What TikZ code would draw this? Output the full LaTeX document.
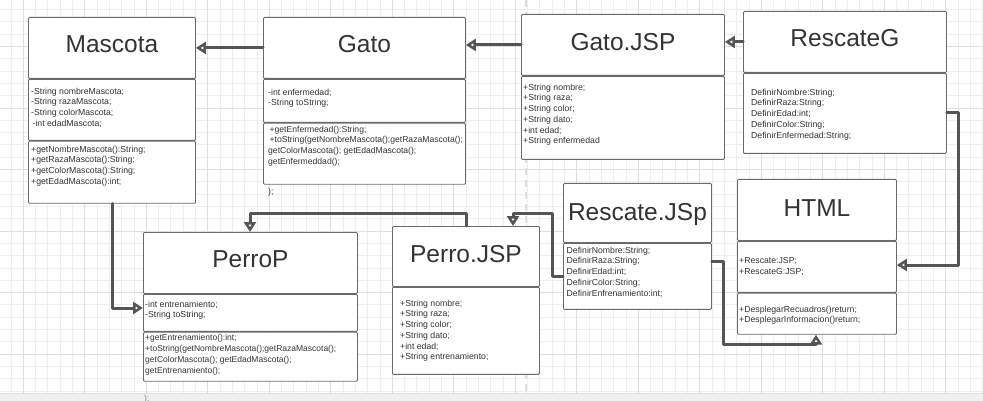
\documentclass[tikz,border=0pt]{standalone}
\usepackage{fontspec}
\setmainfont{Liberation Sans}
\usetikzlibrary{arrows.meta,positioning}
\definecolor{linea}{HTML}{555555}
\definecolor{borde}{HTML}{6A6A6A}
\definecolor{texto}{HTML}{333333}
\definecolor{rejilla}{HTML}{EEEEEE}
\definecolor{rejillaM}{HTML}{DEDEDE}
\definecolor{banda}{HTML}{F0F0F2}
\tikzset{
	caja/.style={draw=borde, fill=white, line width=0.9pt, inner sep=0pt, anchor=north west, rounded corners=1pt},
	titulo/.style={font=\fontsize{24.5}{28}\selectfont, text=texto, text height=17.5pt, text depth=0pt, inner sep=0pt},
	miembro/.style={font=\fontsize{8.7}{10.7}\selectfont, text=texto, align=left, anchor=north west, inner sep=0pt},
	flecha/.style={draw=linea, line width=3pt, -{Triangle[length=10pt, width=12pt, fill=white, line width=3pt]}}
}
\begin{document}
\begin{tikzpicture}[x=1pt, y=-1pt, line join=round, line cap=round]
	\def\paso{12.3} \def\mayor{61.5}
	\useasboundingbox (0,0) rectangle (983,401);
	\fill[white] (0,0) rectangle (983,401);
	% rejilla del fondo
	\foreach \i in {0,...,79} \draw[rejilla, line width=0.8pt] ({10.9+\paso*\i},0) -- ++(0,401);
	\foreach \j in {0,...,31} \draw[rejilla, line width=0.8pt] (0,{9.6+\paso*\j}) -- ++(983,0);
	\foreach \i in {0,...,15} \draw[rejillaM, line width=0.8pt] ({23.2+\mayor*\i},0) -- ++(0,401);
	\foreach \j in {0,...,5} \draw[rejillaM, line width=0.8pt] (0,{46.5+\mayor*\j}) -- ++(983,0);
	\draw[rejillaM, line width=2pt, dash pattern=on 7pt off 5pt, line cap=butt] (526,0) -- (526,393);
	\fill[banda] (0,393) rectangle (983,401);
	\draw[rejillaM, line width=0.8pt] (0,393) -- (983,393);

	% Mascota
	\node[caja, minimum width=167pt, minimum height=61pt] (masc) at (28,17) {};
	\node[caja, minimum width=167pt, minimum height=61pt] (mascA) at (masc.south west) {};
	\node[caja, minimum width=167pt, minimum height=62pt] (mascM) at (mascA.south west) {};
	\node[titulo] (mascT) at ([yshift=4.5pt]masc.center) {Mascota};
	\node[miembro, below right=8.8pt and 3pt of mascA.north west] (mascAt) {-String nombreMascota;\\-String razaMascota;\\-String colorMascota;\\\,-int edadMascota;};
	\node[miembro, below right=4.8pt and 3pt of mascM.north west] (mascMt) {+getNombreMascota():String;\\+getRazaMascota():String;\\+getColorMascota():String;\\+getEdadMascota():int;};

	% Gato
	\node[caja, minimum width=202pt, minimum height=61pt] (gato) at (263,17) {};
	\node[caja, minimum width=202pt, minimum height=43pt] (gatoA) at (gato.south west) {};
	\node[caja, minimum width=202pt, minimum height=61pt] (gatoM) at (gatoA.south west) {};
	\node[titulo] (gatoT) at ([yshift=4.2pt]gato.center) {Gato};
	\node[miembro, below right=9.8pt and 5pt of gatoA.north west] (gatoAt) {-int enfermedad;\\-String toString;};
	\node[miembro, font=\fontsize{8.6}{10.7}\selectfont, below right=2.8pt and 5pt of gatoM.north west] (gatoMt) {\,+getEnfermedad():String;\\\,+toString(getNombreMascota();getRazaMascota();\\getColorMascota(); getEdadMascota();\\getEnfermeddad();};
	\node[miembro] (gatoFin) at (268,188.4) {);};

	% Gato.JSP
	\node[caja, minimum width=203pt, minimum height=61pt] (gjsp) at (521,14) {};
	\node[caja, minimum width=203pt, minimum height=83pt] (gjspA) at (gjsp.south west) {};
	\node[titulo] (gjspT) at ([yshift=3.5pt]gjsp.center) {Gato.JSP};
	\node[miembro, below right=7.8pt and 2pt of gjspA.north west] (gjspAt) {+String nombre;\\+String raza;\\+String color;\\+String dato;\\+int edad;\\+String enfermedad};

	% RescateG
	\node[caja, minimum width=203pt, minimum height=61pt] (rg) at (743,11) {};
	\node[caja, minimum width=203pt, minimum height=80pt] (rgA) at (rg.south west) {};
	\node[titulo] (rgT) at ([yshift=4.5pt]rg.center) {RescateG};
	\node[miembro, below right=15.8pt and 8pt of rgA.north west] (rgAt) {DefinirNombre:String;\\DefinirRaza:String;\\DefinirEdad:int;\\DefinirColor:String;\\DefinirEnfermedad:String;};

	% PerroP
	\node[caja, minimum width=214pt, minimum height=61pt] (perroP) at (143,232) {};
	\node[caja, minimum width=214pt, minimum height=37pt] (perroPA) at (perroP.south west) {};
	\node[caja, minimum width=214pt, minimum height=49pt] (perroPM) at (perroPA.south west) {};
	\node[titulo] (perroPT) at ([yshift=4.5pt]perroP.center) {PerroP};
	\node[miembro, below right=6.8pt and 2pt of perroPA.north west] (perroPAt) {-int entrenamiento;\\-String toString;};
	\node[miembro, font=\fontsize{8.5}{10.7}\selectfont, below right=2.8pt and 2pt of perroPM.north west] (perroPMt) {+getEntrenamiento():int;\\+toString(getNombreMascota();getRazaMascota();\\getColorMascota(); getEdadMascota();\\getEntrenamiento();};

	% Perro.JSP
	\node[caja, minimum width=147pt, minimum height=60pt] (pjsp) at (392,226) {};
	\node[caja, minimum width=147pt, minimum height=87pt] (pjspA) at (pjsp.south west) {};
	\node[titulo] (pjspT) at ([yshift=3pt]pjsp.center) {Perro.JSP};
	\node[miembro, below right=12.8pt and 8pt of pjspA.north west] (pjspAt) {+String nombre;\\+String raza;\\+String color;\\+String dato;\\+int edad;\\+String entrenamiento;};

	% Rescate.JSp
	\node[caja, minimum width=148pt, minimum height=59pt] (rjsp) at (563,183) {};
	\node[caja, minimum width=148pt, minimum height=66pt] (rjspA) at (rjsp.south west) {};
	\node[titulo] (rjspT) at ([yshift=1pt]rjsp.center) {Rescate.JSp};
	\node[miembro, below right=3.8pt and 3.5pt of rjspA.north west] (rjspAt) {DefinirNombre:String;\\DefinirRaza:String;\\DefinirEdad:int;\\DefinirColor:String;\\DefinirEnfrenamiento:int;};

	% HTML
	\node[caja, minimum width=159pt, minimum height=61pt] (html) at (737,179) {};
	\node[caja, minimum width=159pt, minimum height=51pt] (htmlA) at (html.south west) {};
	\node[caja, minimum width=159pt, minimum height=41pt] (htmlM) at (htmlA.south west) {};
	\node[titulo] (htmlT) at ([yshift=2.5pt]html.center) {HTML};
	\node[miembro, below right=16.8pt and 2pt of htmlA.north west] (htmlAt) {+Rescate:JSP;\\+RescateG:JSP;};
	\node[miembro, below right=12.8pt and 2pt of htmlM.north west] (htmlMt) {+DesplegarRecuadros()return;\\+DesplegarInformacion()return;};

	\node[miembro, text=black!45] (perroFin) at (144,394.5) {);};

	% conectores
	\coordinate (m1) at (112,308);
	\coordinate (p1) at (466,213); \coordinate (p2) at (250,213);
	\coordinate (r1) at (552,276); \coordinate (r2) at (552,213); \coordinate (r3) at (513,213);
	\coordinate (h1) at (723,261); \coordinate (h2) at (723,344); \coordinate (h3) at (816,344);
	\coordinate (g1) at (958,113); \coordinate (g2) at (958,265);
	\draw[flecha] (gato.west) -- (masc.east);
	\draw[flecha] (gjsp.west) -- (gjsp.west -| gato.east);
	\draw[flecha] (rg.west) -- (rg.west -| gjsp.east);
	\draw[flecha] (mascM.south -| m1) -- (m1) -- (m1 -| perroP.west);
	\draw[flecha] (pjsp.north -| p1) -- (p1) -- (p2) -- (p2 |- perroP.north);
	\draw[flecha] (r1 -| rjsp.west) -- (r1) -- (r2) -- (r3) -- (r3 |- pjsp.north);
	\draw[flecha] (h1 -| rjsp.east) -- (h1) -- (h2) -- (h3) -- (h3 |- htmlM.south);
	\draw[flecha] (g1 -| rgA.east) -- (g1) -- (g2) -- (g2 -| htmlA.east);
\end{tikzpicture}
\end{document}
